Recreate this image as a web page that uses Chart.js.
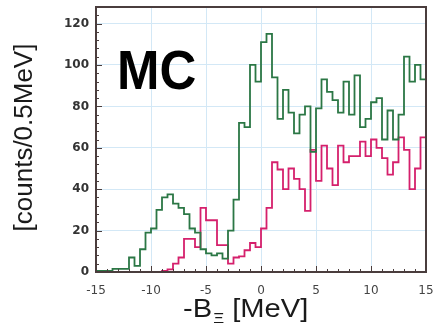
<!DOCTYPE html>
<html>
<head>
<meta charset="utf-8">
<script src="https://cdn.jsdelivr.net/npm/chart.js@4"></script>
<style>
  html, body { margin: 0; padding: 0; background: #fff; }
  #wrap { width: 434px; height: 328px; }
</style>
</head>
<body>
<div id="wrap"><canvas id="mcChart"></canvas></div>
<script>
// histogram bins: -15 .. 15 MeV, 0.5 MeV wide
const binStart = -15;
const binWidth = 0.5;

const greenCounts = [
  0.5, 0.5, 0.5, 1.5, 1.5, 1.5, 7, 3, 11, 19,
  21, 30, 36, 37.5, 33, 31, 28, 21, 19, 11,
  9, 8, 9, 6.5, 20, 35, 72, 70, 100, 92,
  111, 115, 94, 74, 88, 77, 67, 76, 80, 58,
  79, 93, 87, 83, 77, 92, 76, 95, 70, 74,
  82, 84, 64, 78, 64, 76, 104, 92, 100, 93
];

const magentaCounts = [
  0, 0, 0, 0, 0, 0, 0, 0, 0, 0,
  0, 0, 0.5, 1.3, 4, 7, 16, 16, 12, 31,
  25, 25, 13, 13, 4, 7, 7.5, 10.5, 14, 12,
  21, 31, 53, 49.5, 40, 50, 45, 40, 29.5, 59,
  44, 61, 50, 42, 61, 53, 56, 56, 63, 56,
  64, 60, 55, 47, 53, 65, 59, 40, 50, 65
];

const xTickValues = [-15, -10, -5, 0, 5, 10, 15];
const yTickValues = [0, 20, 40, 60, 80, 100, 120];

// step-line points: one per bin lower edge, plus the closing edge
function toSteps(counts) {
  const pts = counts.map((c, i) => ({ x: binStart + i * binWidth, y: c }));
  pts.push({ x: binStart + counts.length * binWidth, y: counts[counts.length - 1] });
  return pts;
}

const frameColor = '#4a3d3d';
const gridColor = '#d3e8f6';

const frameAndText = {
  id: 'frameAndText',
  afterDatasetsDraw(chart) {
    const { ctx, chartArea: a, scales: { x, y } } = chart;
    ctx.save();
    ctx.strokeStyle = frameColor;
    ctx.lineWidth = 1;
    // inward ticks on bottom axis, minor each 1 MeV
    for (let v = -15; v <= 15; v++) {
      const px = Math.round(x.getPixelForValue(v)) + 0.5;
      const len = v % 5 === 0 ? 6 : 3;
      ctx.beginPath();
      ctx.moveTo(px, a.bottom);
      ctx.lineTo(px, a.bottom - len);
      ctx.stroke();
    }
    // inward ticks on left axis, minor each 4 counts
    for (let v = 0; v <= 128; v += 4) {
      const py = Math.round(y.getPixelForValue(v)) + 0.5;
      const len = v % 20 === 0 ? 6 : 3;
      ctx.beginPath();
      ctx.moveTo(a.left, py);
      ctx.lineTo(a.left + len, py);
      ctx.stroke();
    }
    ctx.lineWidth = 2;
    ctx.strokeRect(a.left, a.top, a.right - a.left, a.bottom - a.top);
    ctx.restore();
  },
  afterDraw(chart) {
    const { ctx, chartArea: a } = chart;
    ctx.save();
    ctx.fillStyle = '#000';
    // big MC label
    ctx.font = 'bold 56px "Liberation Sans", Arial, sans-serif';
    ctx.textBaseline = 'alphabetic';
    ctx.translate(a.left + 21, a.top + 82);
    ctx.scale(0.91, 1);
    ctx.fillText('MC', 0, 0);
    ctx.restore();

    // y title
    ctx.save();
    ctx.fillStyle = '#1a1a1a';
    ctx.font = '26px "Liberation Sans", Arial, sans-serif';
    ctx.textAlign = 'center';
    ctx.textBaseline = 'middle';
    ctx.translate(25, (a.top + a.bottom) / 2 - 2);
    ctx.rotate(-Math.PI / 2);
    ctx.fillText('[counts/0.5MeV]', 0, 0);
    ctx.restore();

    // x title with subscript Xi
    ctx.save();
    ctx.fillStyle = '#1a1a1a';
    ctx.textBaseline = 'alphabetic';
    ctx.translate(a.left + 87, 317);
    ctx.scale(1.12, 1);
    let cx = 0;
    ctx.font = '26px "Liberation Sans", Arial, sans-serif';
    ctx.fillText('-B', cx, 0);
    cx += ctx.measureText('-B').width + 1;
    ctx.font = '15px "Liberation Sans", Arial, sans-serif';
    ctx.fillText('\u039E', cx, 6);
    cx += ctx.measureText('\u039E').width;
    ctx.font = '26px "Liberation Sans", Arial, sans-serif';
    ctx.fillText(' [MeV]', cx, 0);
    ctx.restore();
  }
};

const ctx = document.getElementById('mcChart').getContext('2d');
new Chart(ctx, {
  type: 'line',
  data: {
    datasets: [{
      label: 'total',
      data: toSteps(greenCounts),
      borderColor: '#2b7745',
      borderWidth: 1.8,
      stepped: 'before',
      pointRadius: 0,
      fill: false
    }, {
      label: 'subset',
      data: toSteps(magentaCounts),
      borderColor: '#d5206c',
      borderWidth: 1.8,
      stepped: 'before',
      pointRadius: 0,
      fill: false
    }]
  },
  options: {
    responsive: true,
    maintainAspectRatio: false,
    animation: false,
    layout: { padding: { top: 7, right: 8, left: 0, bottom: 0 } },
    plugins: { legend: { display: false }, tooltip: { enabled: false } },
    scales: {
      x: {
        type: 'linear',
        min: -15,
        max: 15,
        afterBuildTicks: s => { s.ticks = xTickValues.map(v => ({ value: v })); },
        afterFit: s => { s.height = 56; s.paddingLeft = 0; s.paddingRight = 0; },
        border: { display: false },
        grid: { color: gridColor, lineWidth: 1, drawTicks: false },
        ticks: {
          padding: 12,
          maxRotation: 0,
          autoSkip: false,
          color: '#444',
          font: { family: 'DejaVu Sans', size: 12 }
        }
      },
      y: {
        min: 0,
        max: 128,
        afterBuildTicks: s => { s.ticks = yTickValues.map(v => ({ value: v })); },
        afterFit: s => { s.width = 96; s.paddingTop = 0; s.paddingBottom = 0; },
        border: { display: false },
        grid: { color: gridColor, lineWidth: 1, drawTicks: false },
        ticks: {
          padding: 7,
          color: '#333',
          font: { family: 'DejaVu Sans', size: 12, weight: 'bold' }
        }
      }
    }
  },
  plugins: [frameAndText]
});
</script>
</body>
</html>
